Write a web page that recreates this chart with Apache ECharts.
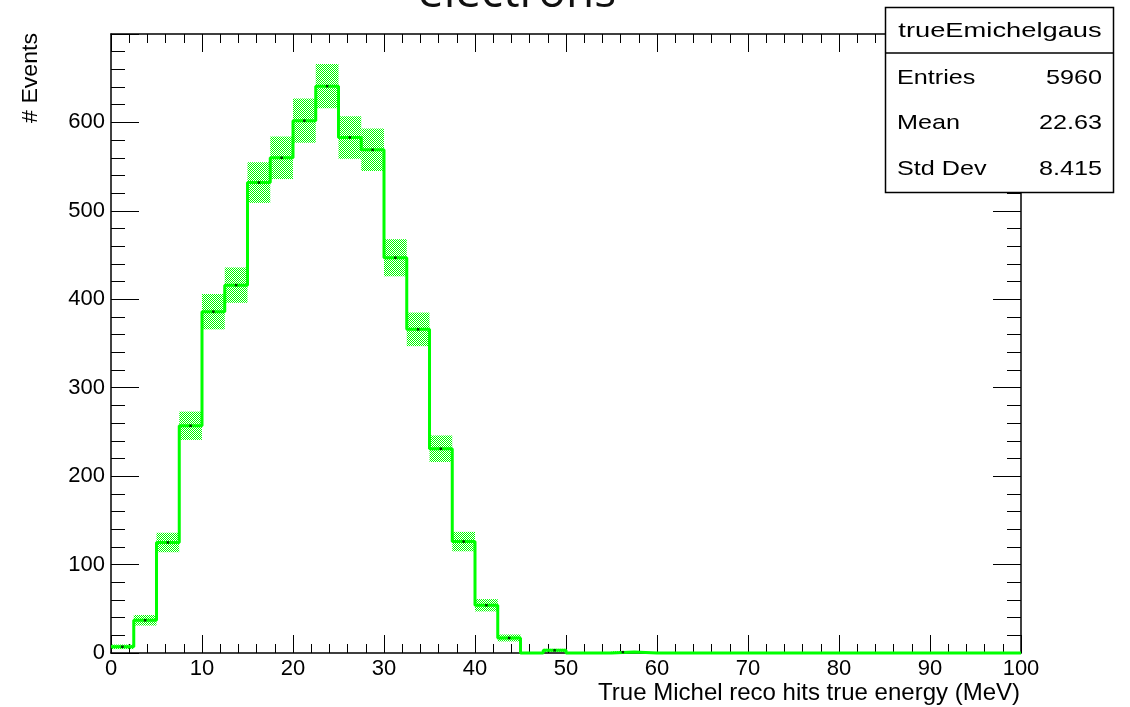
<!DOCTYPE html>
<html>
<head>
<meta charset="utf-8">
<title>trueEmichelgaus</title>
<script src="https://cdn.jsdelivr.net/npm/echarts@6/dist/echarts.min.js"></script>
<style>
  html, body { margin: 0; padding: 0; background: #fff; }
  #chart { width: 1130px; height: 707px; }
</style>
</head>
<body>
<div id="chart"></div>
<script>
// Histogram bins (lower edges, MeV) and contents
const binLow = [0, 2.5, 5, 7.5, 10, 12.5, 15, 17.5, 20, 22.5,
                25, 27.5, 30, 32.5, 35, 37.5, 40, 42.5, 45, 47.5,
                50, 52.5, 55, 57.5, 60, 62.5, 65, 67.5, 70, 72.5,
                75, 77.5, 80, 82.5, 85, 87.5, 90, 92.5, 95, 97.5];
const binWidth = 2.5;
const counts = [7, 37, 125, 257, 386, 416, 532, 560, 602, 641,
                583, 569, 447, 366, 231, 126, 54, 17, 0, 3,
                0, 0, 1, 0, 0, 0, 0, 0, 0, 0,
                0, 0, 0, 0, 0, 0, 0, 0, 0, 0];
// Statistical uncertainty per bin
const errors = [2.6, 6, 11, 16, 20, 20, 23, 24, 25, 25,
                24, 24, 21, 19, 15, 11, 7, 4, 0, 1.7,
                0, 0, 1, 0, 0, 0, 0, 0, 0, 0,
                0, 0, 0, 0, 0, 0, 0, 0, 0, 0];

const xTickLabels = [0, 10, 20, 30, 40, 50, 60, 70, 80, 90, 100];
const yTickLabels = [0, 100, 200, 300, 400, 500, 600];

const statsTitle = 'trueEmichelgaus';
const statsNames = ['Entries', 'Mean', 'Std Dev'];
const statsValues = ['5960', '22.63', '8.415'];

// Hatched fill for the error band (1px checker)
const hatch = document.createElement('canvas');
hatch.width = 2; hatch.height = 2;
(function () {
  const c = hatch.getContext('2d');
  c.fillStyle = '#00ff00';
  c.fillRect(0, 0, 1, 1);
  c.fillRect(1, 1, 1, 1);
})();

const FONT = '"Liberation Sans", Arial, Helvetica, sans-serif';
const GREEN = '#00ff00';

// Step outline through bin edges
const stepData = binLow.map((x, i) => [x, counts[i]]);
stepData.push([binLow[binLow.length - 1] + binWidth, counts[counts.length - 1]]);

const bandData = binLow.map((x, i) => [x, x + binWidth, counts[i], errors[i]])
  .filter(d => d[3] > 0);
const markerData = binLow.map((x, i) => [x + binWidth / 2, counts[i]])
  .filter(d => d[1] > 0);

function axisCommon(extra) {
  return Object.assign({
    type: 'value',
    splitLine: { show: false },
    axisLine: { show: true, onZero: false, lineStyle: { color: '#000', width: 1.5 } },
  }, extra);
}

const xTick = { show: true, inside: true, length: 18, lineStyle: { color: '#000', width: 1 } };
const xMinor = { show: true, splitNumber: 5, length: 9, lineStyle: { color: '#000', width: 1 } };
const yTick = { show: true, inside: true, length: 28, lineStyle: { color: '#000', width: 1 } };
const yMinor = { show: true, splitNumber: 5, length: 14, lineStyle: { color: '#000', width: 1 } };

const chart = echarts.init(document.getElementById('chart'), null, { renderer: 'canvas' });

chart.setOption({
  backgroundColor: '#fff',
  animation: false,
  grid: { left: 111, right: 109, top: 34, bottom: 54, containLabel: false },
  xAxis: [
    axisCommon({
      position: 'bottom', min: 0, max: 100, interval: 10,
      axisTick: xTick, minorTick: xMinor,
      axisLabel: {
        show: true, margin: 5, color: '#000', fontSize: 22, fontFamily: FONT,
        formatter: v => (xTickLabels.indexOf(v) >= 0 ? String(v) : '')
      }
    }),
    axisCommon({
      position: 'top', min: 0, max: 100, interval: 10,
      axisTick: xTick, minorTick: xMinor, axisLabel: { show: false }
    })
  ],
  yAxis: [
    axisCommon({
      position: 'left', min: 0, max: 700, interval: 100,
      axisTick: yTick, minorTick: yMinor,
      axisLabel: {
        show: true, margin: 6, color: '#000', fontSize: 22, fontFamily: FONT,
        formatter: v => (yTickLabels.indexOf(v) >= 0 ? String(v) : '')
      }
    }),
    axisCommon({
      position: 'right', min: 0, max: 700, interval: 100,
      axisTick: yTick, minorTick: yMinor, axisLabel: { show: false }
    })
  ],
  series: [
    {
      type: 'custom',
      name: 'band',
      xAxisIndex: 0, yAxisIndex: 0,
      z: 2,
      silent: true,
      data: bandData,
      renderItem: function (params, api) {
        const p1 = api.coord([api.value(0), api.value(2) + api.value(3)]);
        const p2 = api.coord([api.value(1), api.value(2) - api.value(3)]);
        return {
          type: 'rect',
          shape: { x: p1[0], y: p1[1], width: p2[0] - p1[0], height: p2[1] - p1[1] },
          style: { fill: { image: hatch, repeat: 'repeat' } }
        };
      }
    },
    {
      type: 'line',
      name: statsTitle,
      xAxisIndex: 0, yAxisIndex: 0,
      z: 3,
      step: 'end',
      showSymbol: false,
      clip: false,
      data: stepData,
      lineStyle: { color: GREEN, width: 3 },
      itemStyle: { color: GREEN }
    },
    {
      type: 'scatter',
      name: 'points',
      xAxisIndex: 0, yAxisIndex: 0,
      z: 4,
      symbol: 'rect',
      symbolSize: 2.5,
      data: markerData,
      itemStyle: { color: '#000' }
    }
  ],
  graphic: [
    // Page title (partly above the canvas)
    {
      type: 'text', x: 517, y: -6, z: 10,
      style: {
        text: 'electrons', fill: '#111',
        font: '46px "Open Sans", sans-serif',
        textAlign: 'center', textVerticalAlign: 'middle'
      }
    },
    // Axis titles
    {
      type: 'text', x: 31, y: 33, rotation: Math.PI / 2, scaleX: 1.05, z: 10,
      style: {
        text: '# Events', fill: '#000',
        font: '22px ' + FONT,
        textAlign: 'right', textVerticalAlign: 'middle'
      }
    },
    {
      type: 'text', x: 1020, y: 693, z: 10,
      style: {
        text: 'True Michel reco hits true energy (MeV)', fill: '#000',
        font: '24px ' + FONT,
        textAlign: 'right', textVerticalAlign: 'middle'
      }
    },
    // Statistics box
    {
      type: 'rect', z: 20,
      shape: { x: 885.5, y: 7.5, width: 228, height: 185 },
      style: { fill: '#fff', stroke: '#000', lineWidth: 1.5 }
    },
    {
      type: 'line', z: 21,
      shape: { x1: 885.5, y1: 53, x2: 1113.5, y2: 53 },
      style: { stroke: '#000', lineWidth: 1.5 }
    },
    {
      type: 'text', x: 1000, y: 31, scaleX: 1.3, z: 22,
      style: {
        text: statsTitle, fill: '#000', font: '21px ' + FONT,
        textAlign: 'center', textVerticalAlign: 'middle'
      }
    }
  ].concat(statsNames.map((name, i) => ({
    type: 'text', x: 897, y: 78 + i * 45.5, scaleX: 1.2, z: 22,
    style: {
      text: name, fill: '#000', font: '21px ' + FONT,
      textAlign: 'left', textVerticalAlign: 'middle'
    }
  }))).concat(statsValues.map((val, i) => ({
    type: 'text', x: 1102, y: 78 + i * 45.5, scaleX: 1.2, z: 22,
    style: {
      text: val, fill: '#000', font: '21px ' + FONT,
      textAlign: 'right', textVerticalAlign: 'middle'
    }
  })))
});
</script>
</body>
</html>
